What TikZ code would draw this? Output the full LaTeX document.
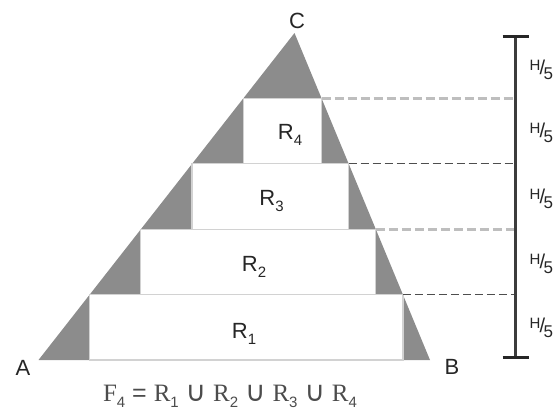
\documentclass[tikz,border=0pt]{standalone}
\usepackage{fontspec}
\setmainfont{Liberation Sans}
\newfontfamily\timesface{Liberation Serif}
\newfontfamily\symface{DejaVu Sans}
\usepackage{xcolor}
\usepackage{tikz}
\usetikzlibrary{positioning,calc}

\definecolor{wedgegray}{HTML}{8C8C8C}
\definecolor{rimgray}{HTML}{D2D2D2}
\definecolor{bargray}{HTML}{3C3C3C}
\definecolor{palegray}{HTML}{BEBEBE}
\definecolor{deepgray}{HTML}{4E4E4E}

\newcommand{\fifth}{\raisebox{4pt}{\fontsize{15}{15}\selectfont H}\kern-1pt{\fontsize{20}{20}\selectfont /}\kern-1.5pt\raisebox{-5pt}{\fontsize{17}{17}\selectfont 5}}
\newcommand{\lowsub}[1]{\raisebox{-6pt}{\fontsize{15}{15}\selectfont #1}}
\newcommand{\cupsym}{{\symface\fontsize{28}{28}\selectfont ∪}}

\begin{document}
\begin{tikzpicture}[
    x=1pt, y=-1pt,
    every node/.style={font=\fontsize{22}{24}\selectfont, inner sep=0pt, text=black!85},
    region/.style={draw=rimgray, fill=white, line width=1.2pt},
    paledash/.style={draw=palegray, line width=3pt, dash pattern=on 9pt off 4pt},
    deepdash/.style={draw=deepgray, line width=1.6pt, dash pattern=on 8pt off 4pt},
    thindash/.style={draw=deepgray, line width=1pt, dash pattern=on 8pt off 4pt},
    fifthlabel/.style={anchor=west, xshift=14pt, yshift=-2pt}
]
\useasboundingbox (0,0) rectangle (560,413);

\coordinate (A) at (38.5,360);
\coordinate (B) at (430,360);
\coordinate (C) at (294.5,33);
\coordinate (top) at (515.5,36.7);
\coordinate (bot) at (515.5,357.3);
\fill[wedgegray] (A) -- (B) -- (C) -- cycle;

\foreach \k in {1,...,4} {
  \coordinate (l\k) at ($(A)!\k/5!(C)$);
  \coordinate (r\k) at ($(B)!\k/5!(C)$);
  \coordinate (m\k) at (r\k -| top);
}

\path[region] (l1) rectangle (r1 |- A);
\path[region] (l2) rectangle (r2 |- l1);
\path[region] (l3) rectangle (r3 |- l2);
\path[region] (l4) rectangle (r4 |- l3);

\node (labR1) at (244,334) {R\lowsub{1}};
\node (labR2) at (254,267) {R\lowsub{2}};
\node (labR3) at (271.5,201) {R\lowsub{3}};
\node (labR4) at (290,135) {R\lowsub{4}};

\node (labA) at (23,368) {A};
\node (labB) at (452,367) {B};
\node (labC) at (297,21) {C};

\node[anchor=base, font=\fontsize{25}{27}\selectfont, text=black!70] (union) at (230,401)
  {{\timesface F}\lowsub{4} = {\timesface R}\lowsub{1} \cupsym{} {\timesface R}\lowsub{2} \cupsym{} {\timesface R}\lowsub{3} \cupsym{} {\timesface R}\lowsub{4}};

\draw[deepdash] (r1) -- (m1);
\draw[paledash] (r2) -- (m2);
\draw[thindash] (r3) -- (m3);
\draw[paledash, line width=2.4pt] (r4) -- (m4);

\draw[bargray, line width=2.2pt] (top) -- (bot);
\draw[black!85, line width=3.5pt] ([xshift=-13pt]top) -- ([xshift=13pt]top);
\draw[black!85, line width=3.5pt] ([xshift=-13pt]bot) -- ([xshift=13pt]bot);

\node[fifthlabel] (h1) at ($(bot)!.5!(m1)$) {\fifth};
\node[fifthlabel] (h2) at ($(m1)!.5!(m2)$) {\fifth};
\node[fifthlabel] (h3) at ($(m2)!.5!(m3)$) {\fifth};
\node[fifthlabel] (h4) at ($(m3)!.5!(m4)$) {\fifth};
\node[fifthlabel] (h5) at ($(m4)!.5!(top)$) {\fifth};
\end{tikzpicture}
\end{document}
